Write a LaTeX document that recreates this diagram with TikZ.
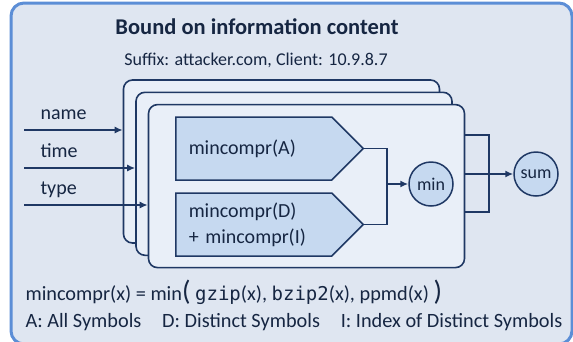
\documentclass[tikz,border=0pt]{standalone}
\usepackage{fontspec}
\setmainfont{Carlito}
\setmonofont{DejaVu Sans Mono}
\usetikzlibrary{arrows.meta,shapes.symbols}
\definecolor{pagebg}{RGB}{223,230,241}
\definecolor{rimblue}{RGB}{92,142,214}
\definecolor{navy}{RGB}{31,56,100}
\definecolor{cardfill}{RGB}{233,239,248}
\definecolor{unitfill}{RGB}{198,217,240}
\definecolor{inktext}{RGB}{22,38,66}
\tikzset{
	card/.style={draw=navy, line width=1.6pt, fill=cardfill, rounded corners=9pt,
		minimum width=316pt, minimum height=163pt, inner sep=0pt},
	unit/.style={signal, signal to=east, signal pointer angle=90, draw=navy, line width=1.5pt,
		fill=unitfill, minimum height=63pt, text width=130pt, inner xsep=13pt, align=left,
		anchor=west, font=\fontsize{20}{26}\selectfont},
	op/.style={circle, draw=navy, line width=1.5pt, fill=unitfill, minimum size=44pt, inner sep=0pt},
	wire/.style={draw=navy, line width=1.5pt},
	flow/.style={wire, -{Latex[length=8pt,width=7pt]}}
}
\begin{document}
\begin{tikzpicture}[x=1pt, y=-1pt, every node/.style={text=inktext, font=\fontsize{18}{21}\selectfont}]
	\useasboundingbox (0,0) rectangle (573,341);
	\draw[line width=3pt, rimblue, fill=pagebg, rounded corners=13pt] (11,3) rectangle (572,344);
	\node[font=\bfseries\fontsize{22.5}{26}\selectfont] (title) at (257,27) {Bound on information content};
	\node (suffix) at (256,60) {Suffix: attacker.com, Client: 10.9.8.7};
	
	\foreach \k in {0,1,2}{
		\node[card] (c\k) at ({281.5+12.5*\k},{161.5+12.3*\k}) {};
	}
	\foreach \lbl/\yy/\k in {name/130/0, time/168/1, type/205/2}{
		\coordinate (in\k) at (24,\yy);
		\draw[flow] (in\k) -- (in\k -| c\k.west);
		\node[anchor=base west, font=\fontsize{20}{24}\selectfont] (l\k) at (37,\yy-11) {\lbl};
	}
	
	\node[unit] (uA) at (175,148.5) {mincompr(A)};
	\node[unit] (uD) at (175,224.5) {mincompr(D)\\+ mincompr(I)};
	\node[op] (mn) at (431,184) {min};
	\node[op] (sm) at (536,174) {sum};
	
	\coordinate (jn) at (387,184);
	\draw[wire] (uA.east) -| (jn) |- (uD.east);
	\draw[flow] (jn) -- (mn);
	\coordinate (bt) at (489,135);
	\coordinate (bb) at (489,212);
	\draw[wire] (bt -| c2.east) -- (bt) -- (bb) -- (bb -| c2.east);
	\draw[flow] (c2.east |- sm) -- (sm);
	
	\node[anchor=base west, font=\fontsize{20.3}{24}\selectfont] (fm) at (22,300) {mincompr(x) = min{\fontsize{28}{28}\selectfont(} \texttt{\fontsize{19}{22}\selectfont gzip}(x), \texttt{\fontsize{19}{22}\selectfont bzip2}(x), ppmd(x) {\fontsize{28}{28}\selectfont)}};
	\node[anchor=base west, font=\fontsize{20.3}{24}\selectfont] (key) at (22,327) {A: All Symbols\hspace{0.8em} D: Distinct Symbols\hspace{0.8em} I: Index of Distinct Symbols};
\end{tikzpicture}
\end{document}
